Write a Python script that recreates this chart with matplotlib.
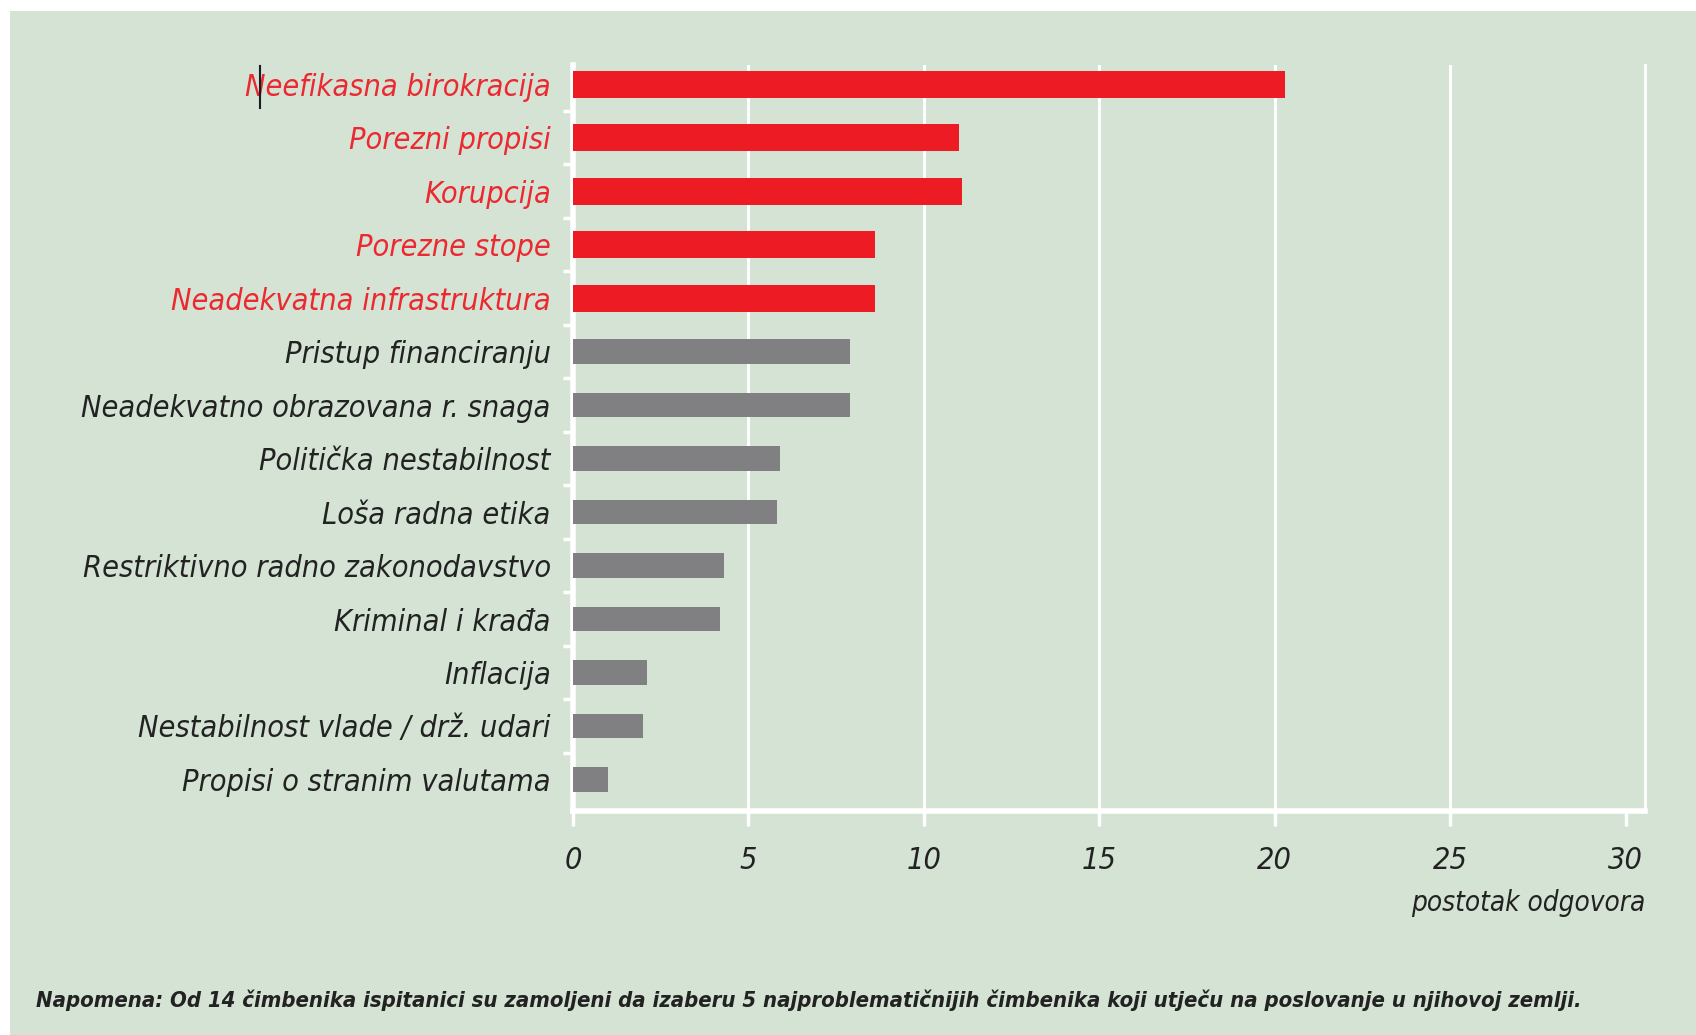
import matplotlib
matplotlib.use('Agg')
import matplotlib.pyplot as plt
from matplotlib.patches import Rectangle
from matplotlib.lines import Line2D
from matplotlib.ticker import FixedLocator

# ======================
# 数据
# ======================
categories = [
    'Neefikasna birokracija',
    'Porezni propisi',
    'Korupcija',
    'Porezne stope',
    'Neadekvatna infrastruktura',
    'Pristup financiranju',
    'Neadekvatno obrazovana r. snaga',
    'Politička nestabilnost',
    'Loša radna etika',
    'Restriktivno radno zakonodavstvo',
    'Kriminal i krađa',
    'Inflacija',
    'Nestabilnost vlade / drž. udari',
    'Propisi o stranim valutama',
]
values = [20.3, 11.0, 11.1, 8.6, 8.6, 7.9, 7.9, 5.9, 5.8, 4.3, 4.2, 2.1, 2.0, 1.0]
n_highlight = 5
x_ticks = [0, 5, 10, 15, 20, 25, 30]
x_label = 'postotak odgovora'
note = ('Napomena: Od 14 čimbenika ispitanici su zamoljeni da izaberu 5 najproblematičnijih '
        'čimbenika koji utječu na poslovanje u njihovoj zemlji.')

# ======================
# 样式
# ======================
bg = '#d4e3d3'
red = '#ed1c24'
grey = '#808083'
red_txt = '#ec2830'
dark_txt = '#222222'
font_fam = 'DejaVu Sans'
stretch = 'condensed'

fig = plt.figure(figsize=(16.96, 10.35), dpi=100)
fig.set_facecolor('white')
fig.add_artist(Rectangle((10 / 1696, 0), 1, 1 - 11 / 1035, transform=fig.transFigure,
                         facecolor=bg, edgecolor='none', zorder=0))

ax = fig.add_axes([573 / 1696, 1 - 811 / 1035, (1645 - 573) / 1696, (811 - 65) / 1035])
ax.set_facecolor(bg)

ypos = list(range(len(categories)))
colors = [red if i < n_highlight else grey for i in ypos]
heights = [0.5 if i < n_highlight else 0.46 for i in ypos]
ax.barh(ypos, values, height=heights, color=colors, zorder=3)

ax.set_xlim(0, 30.55)
ax.set_ylim(13.59, -0.36)

# 网格
for x in x_ticks[1:-1]:
    ax.axvline(x, color='white', linewidth=2.2, zorder=1)

ax.spines['top'].set_visible(False)
for s in ['left', 'bottom', 'right']:
    ax.spines[s].set_color('white')
ax.spines['left'].set_linewidth(4)
ax.spines['bottom'].set_linewidth(4)
ax.spines['right'].set_linewidth(2)

ax.set_yticks(ypos)
ax.set_yticklabels(categories)
ax.tick_params(axis='y', which='major', length=0, pad=16)
ax.yaxis.set_minor_locator(FixedLocator([i + 0.5 for i in ypos[:-1]]))
ax.tick_params(axis='y', which='minor', length=7, width=2.5, color='white', direction='out')
for i, lab in enumerate(ax.get_yticklabels()):
    lab.set_fontfamily(font_fam)
    lab.set_fontstretch(stretch)
    lab.set_fontstyle('italic')
    lab.set_fontsize(22)
    lab.set_color(red_txt if i < n_highlight else dark_txt)

ax.set_xticks(x_ticks, [str(t) for t in x_ticks])
ax.tick_params(axis='x', which='major', length=11, width=2.5, color='white', pad=14)
for lab in ax.get_xticklabels():
    lab.set_fontfamily(font_fam)
    lab.set_fontstretch(stretch)
    lab.set_fontstyle('italic')
    lab.set_fontsize(22)
    lab.set_color(dark_txt)

ax.set_xlabel(x_label, loc='right', fontsize=20, fontstyle='italic', fontstretch=stretch,
              family=font_fam, color=dark_txt, labelpad=10)

fig.text(36 / 1696, 1 - 1000 / 1035, note, fontsize=15.8, fontweight='bold', fontstyle='italic',
         fontstretch=stretch, family=font_fam, color=dark_txt, ha='left', va='center')

# 文字光标残影
fig.add_artist(Line2D([260 / 1696, 260 / 1696], [1 - 66 / 1035, 1 - 108 / 1035],
                      transform=fig.transFigure, color='#1a1a2a', linewidth=1.5))

fig.savefig('out.png', dpi=100, facecolor='white')
